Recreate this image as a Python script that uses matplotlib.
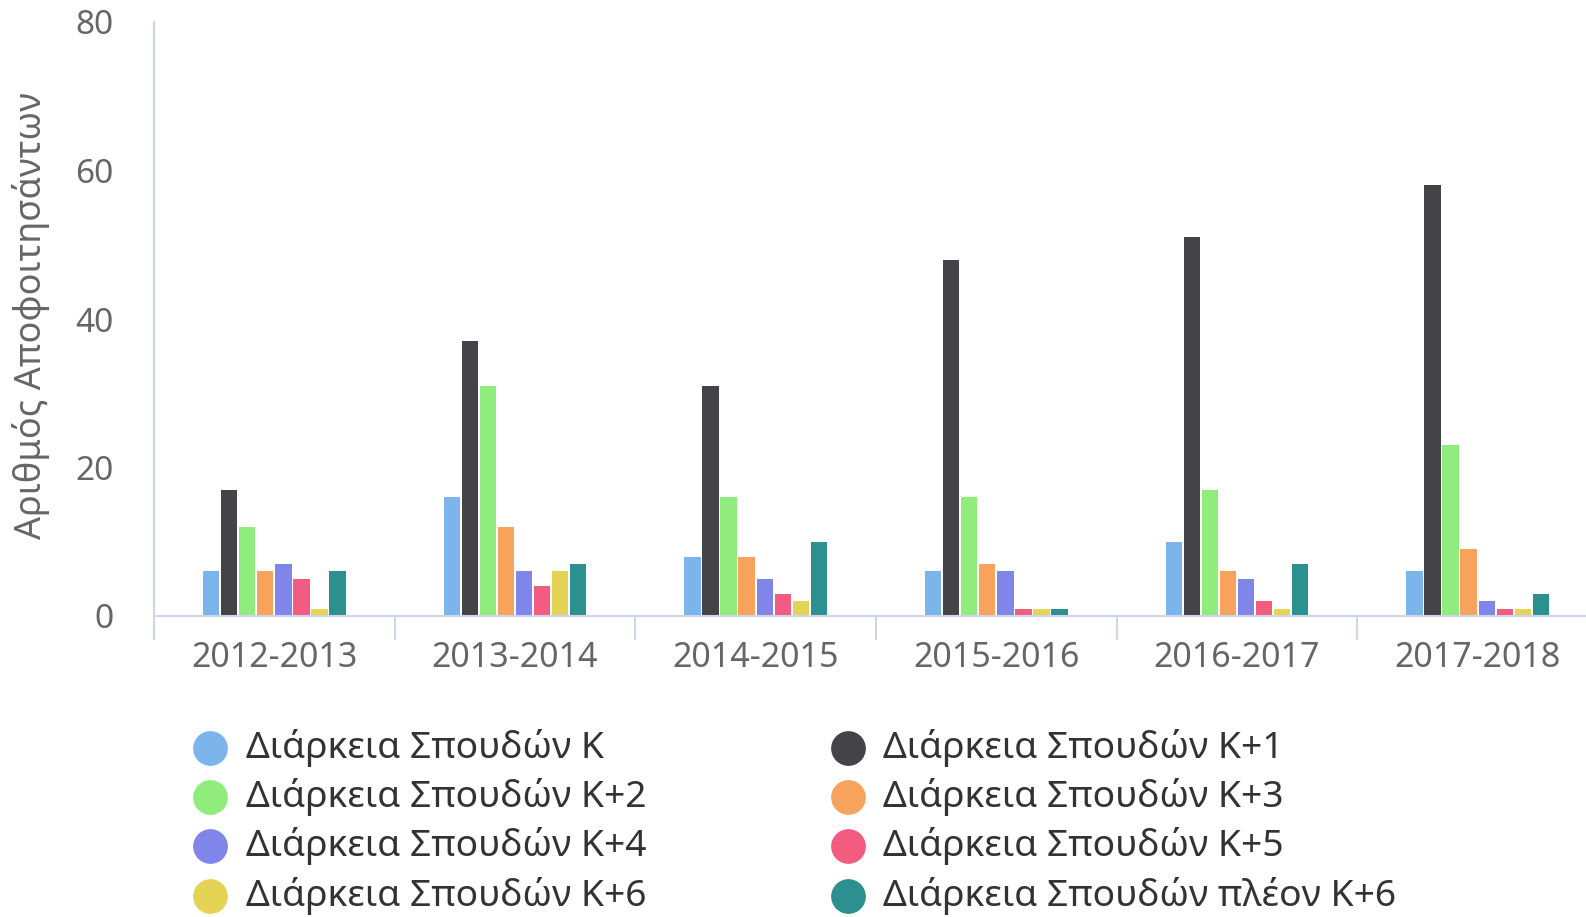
import numpy as np
import matplotlib.pyplot as plt
from matplotlib.lines import Line2D

plt.rcParams['font.family'] = ['Noto Sans', 'DejaVu Sans']

years = ['2012-2013', '2013-2014', '2014-2015', '2015-2016', '2016-2017', '2017-2018']

series_names = [
    'Διάρκεια Σπουδών Κ',
    'Διάρκεια Σπουδών Κ+1',
    'Διάρκεια Σπουδών Κ+2',
    'Διάρκεια Σπουδών Κ+3',
    'Διάρκεια Σπουδών Κ+4',
    'Διάρκεια Σπουδών Κ+5',
    'Διάρκεια Σπουδών Κ+6',
    'Διάρκεια Σπουδών πλέον Κ+6',
]

k_0 = [6, 16, 8, 6, 10, 6]
k_1 = [17, 37, 31, 48, 51, 58]
k_2 = [12, 31, 16, 16, 17, 23]
k_3 = [6, 12, 8, 7, 6, 9]
k_4 = [7, 6, 5, 6, 5, 2]
k_5 = [5, 4, 3, 1, 2, 1]
k_6 = [1, 6, 2, 1, 1, 1]
k_more = [6, 7, 10, 1, 7, 3]

colors = ['#7cb5ec', '#434348', '#90ed7d', '#f7a35c',
          '#8085e9', '#f15c80', '#e4d354', '#2b908f']

series = [k_0, k_1, k_2, k_3, k_4, k_5, k_6, k_more]

fig = plt.figure(figsize=(15.86, 9.17), dpi=100)
ax = fig.add_axes([154 / 1586, 1 - 616 / 917, 1444 / 1586, (616 - 22) / 917])

x = np.arange(len(years))
stride = 0.075
width = 0.068
for i, (vals, col) in enumerate(zip(series, colors)):
    offset = (i - 3.5) * stride
    ax.bar(x + offset, vals, width=width, color=col, zorder=2)

ax.set_xlim(-0.5, 5.5)
ax.set_ylim(0, 80)
ax.set_yticks([0, 20, 40, 60, 80])

axis_col = '#ccd6eb'
for s in ['top', 'right']:
    ax.spines[s].set_visible(False)
ax.spines['left'].set_color(axis_col)
ax.spines['bottom'].set_color(axis_col)
ax.spines['left'].set_linewidth(1.5)
ax.spines['bottom'].set_linewidth(1.5)

# boundaries between categories carry the tick marks, labels sit in the middle
ax.set_xticks(np.arange(-0.5, 6, 1))
ax.set_xticklabels([])
ax.set_xticks(x, minor=True)
ax.set_xticklabels(years, minor=True)
ax.tick_params(axis='x', which='major', length=17, width=1.5, color=axis_col)
ax.tick_params(axis='x', which='minor', length=0, pad=18, labelsize=24.5, labelcolor='#666666')
ax.tick_params(axis='y', length=0, pad=29, labelsize=24, labelcolor='#666666')

fig.text(31 / 1586, 1 - 316 / 917, 'Αριθμός Αποφοιτησάντων', rotation=90,
         ha='center', va='center', fontsize=26, color='#666666')

# two-column legend, filled row by row
row_y = [748, 797, 846, 896]
col_marker_x = [210, 848]
col_text_x = [246, 883]
for i, (name, col) in enumerate(zip(series_names, colors)):
    r, c = i // 2, i % 2
    yf = 1 - row_y[r] / 917
    fig.add_artist(Line2D([col_marker_x[c] / 1586], [yf], marker='o', markersize=24,
                          color=col, linestyle='none', transform=fig.transFigure))
    fig.text(col_text_x[c] / 1586, yf, name, ha='left', va='center',
             fontsize=26.8, color='#333333')

fig.savefig('out.png', dpi=100)
